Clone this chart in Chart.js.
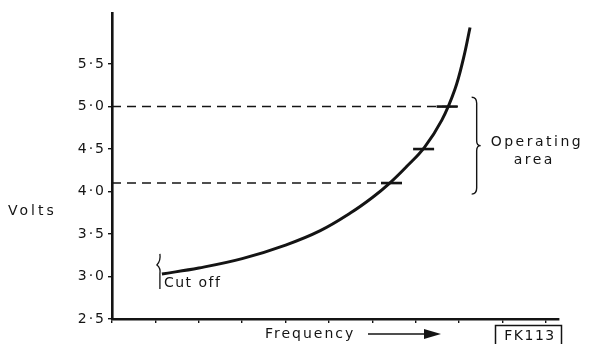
<!DOCTYPE html>
<html>
<head>
<meta charset="utf-8">
<script src="https://cdn.jsdelivr.net/npm/chart.js@4/dist/chart.umd.min.js"></script>
<style>
  html, body { margin: 0; padding: 0; background: #fff; }
  canvas { display: block; }
</style>
</head>
<body>
<canvas id="chart" width="591" height="344"></canvas>
<script>
// oscillator output: volts against frequency
const freq  = [1.15, 2.0, 3.0, 4.0, 4.8, 5.5, 6.0, 6.4, 6.8, 7.2, 7.6, 7.9, 8.1, 8.25];
const volts = [3.03, 3.10, 3.21, 3.37, 3.54, 3.75, 3.93, 4.10, 4.30, 4.52, 4.84, 5.20, 5.57, 5.93];

// operating limits (dashed) and where they stop
const limitVolts = [5.0, 4.1];
const limitEnds  = [7.97, 6.67];

// short bars across the curve
const markFreq  = [7.72, 7.18, 6.44];
const markVolts = [5.0, 4.5, 4.1];

const voltTicks = [2.5, 3.0, 3.5, 4.0, 4.5, 5.0, 5.5];
const freqTicks = [0, 1, 2, 3, 4, 5, 6, 7, 8, 9, 10];

const INK = '#141414';
const FONT = '"DejaVu Sans", sans-serif';

const curve = freq.map((f, i) => ({ x: f, y: volts[i] }));
const limitSets = limitVolts.map((v, i) => ({
  data: [{ x: 0, y: v }, { x: limitEnds[i], y: v }],
  borderColor: INK,
  borderWidth: 1.6,
  borderDash: [9, 6],
  pointRadius: 0,
  showLine: true,
}));

// wider letters for the axis numbers
const spacing = {
  id: 'spacing',
  beforeDraw(chart) { chart.ctx.letterSpacing = '2px'; },
  afterDraw(chart) { chart.ctx.letterSpacing = '0px'; }
};

const annotations = {
  id: 'annotations',
  afterDraw(chart) {
    const { ctx, scales: { x, y } } = chart;
    ctx.save();
    ctx.fillStyle = INK;
    ctx.strokeStyle = INK;
    ctx.font = '14px ' + FONT;
    ctx.textBaseline = 'middle';

    // axis title on the left
    ctx.letterSpacing = '3px';
    ctx.fillText('Volts', 8, 211);

    // cut off note at the start of the curve
    const cx = x.getPixelForValue(freq[0]) - 2;
    const cy = y.getPixelForValue(volts[0]);
    ctx.lineWidth = 1.3;
    ctx.beginPath();
    ctx.moveTo(cx, cy - 20);
    ctx.quadraticCurveTo(cx + 1, cy - 13, cx - 3, cy - 9);
    ctx.quadraticCurveTo(cx + 1, cy - 6, cx, cy);
    ctx.lineTo(cx, cy + 15);
    ctx.stroke();
    ctx.letterSpacing = '1.5px';
    ctx.fillText('Cut off', cx + 4, cy + 9);

    // brace marking the operating area
    const bx = x.getPixelForValue(8.38);
    const top = y.getPixelForValue(5.11);
    const bot = y.getPixelForValue(3.97);
    const mid = (top + bot) / 2;
    ctx.lineWidth = 1.4;
    ctx.beginPath();
    ctx.moveTo(bx - 4, top);
    ctx.quadraticCurveTo(bx + 1, top, bx + 1, top + 6);
    ctx.lineTo(bx + 1, mid - 5);
    ctx.quadraticCurveTo(bx + 1, mid, bx + 5, mid);
    ctx.quadraticCurveTo(bx + 1, mid, bx + 1, mid + 5);
    ctx.lineTo(bx + 1, bot - 6);
    ctx.quadraticCurveTo(bx + 1, bot, bx - 4, bot);
    ctx.stroke();
    ctx.letterSpacing = '2.5px';
    ctx.fillText('Operating', bx + 15, mid - 3);
    ctx.fillText('area', bx + 38, mid + 15);

    // x axis title with arrow
    ctx.letterSpacing = '2px';
    ctx.fillText('Frequency', 265, 334);
    ctx.lineWidth = 1.4;
    ctx.beginPath();
    ctx.moveTo(368, 334);
    ctx.lineTo(428, 334);
    ctx.stroke();
    ctx.beginPath();
    ctx.moveTo(441, 334);
    ctx.lineTo(424, 329);
    ctx.lineTo(424, 339);
    ctx.closePath();
    ctx.fill();

    // figure reference box
    ctx.lineWidth = 1.5;
    ctx.strokeRect(495.5, 325.5, 66, 22);
    ctx.letterSpacing = '1.5px';
    ctx.textAlign = 'center';
    ctx.fillText('FK113', 530, 336);
    ctx.restore();
  }
};

new Chart(document.getElementById('chart'), {
  type: 'scatter',
  data: {
    datasets: [
      {
        data: curve,
        borderColor: INK,
        borderWidth: 3,
        pointRadius: 0,
        showLine: true,
        tension: 0.4,
      },
      ...limitSets,
      {
        data: markFreq.map((f, i) => ({ x: f, y: markVolts[i] })),
        pointStyle: 'line',
        pointRadius: 10.5,
        pointBorderWidth: 2.6,
        borderColor: INK,
        showLine: false,
      },
    ]
  },
  options: {
    responsive: false,
    animation: false,
    devicePixelRatio: 1,
    layout: { padding: { top: 10, right: 32, left: 0, bottom: 0 } },
    plugins: { legend: { display: false }, tooltip: { enabled: false } },
    scales: {
      x: {
        type: 'linear',
        min: 0,
        max: 10.3,
        afterBuildTicks: s => { s.ticks = freqTicks.map(v => ({ value: v })); },
        afterFit: s => { s.height = 25; },
        ticks: { display: false },
        grid: { drawOnChartArea: false, drawTicks: true, tickLength: 4, color: INK, lineWidth: 1.4 },
        border: { display: true, color: INK, width: 2.6 },
      },
      y: {
        type: 'linear',
        min: 2.5,
        max: 6.1,
        afterBuildTicks: s => { s.ticks = voltTicks.map(v => ({ value: v })); },
        afterFit: s => { s.width = 112; },
        ticks: {
          color: INK,
          padding: 2,
          font: { family: 'DejaVu Sans', size: 14 },
          callback: v => v.toFixed(1).replace('.', '·'),
        },
        grid: { drawOnChartArea: false, drawTicks: true, tickLength: 4, color: INK, lineWidth: 1.4 },
        border: { display: true, color: INK, width: 2.6 },
      }
    }
  },
  plugins: [spacing, annotations]
});
</script>
</body>
</html>
